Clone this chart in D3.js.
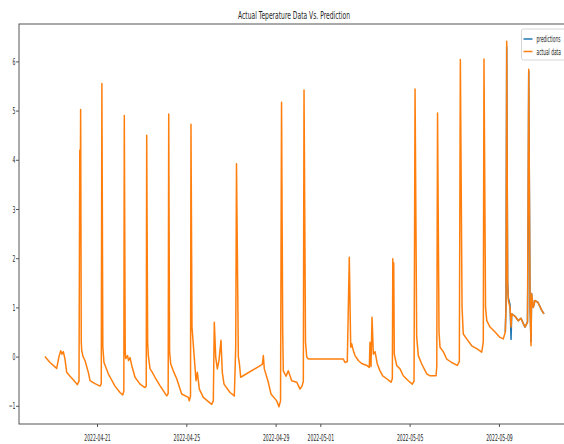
<!DOCTYPE html>
<html>
<head>
<meta charset="utf-8">
<script src="https://cdn.jsdelivr.net/npm/d3@7"></script>
<style>
  body { margin: 0; background: #fff; }
  text { font-family: "DejaVu Sans", sans-serif; fill: #262626; }
</style>
</head>
<body>
<div id="chart"></div>
<script>
// actual temperature readings [time, value]
var actualData = [
  ["2022-04-18 16:00", 0.0], ["2022-04-18 21:30", -0.12], ["2022-04-19 04:40", -0.24], ["2022-04-19 07:10", 0.0],
  ["2022-04-19 09:00", 0.12], ["2022-04-19 10:25", 0.05], ["2022-04-19 11:50", 0.1], ["2022-04-19 13:35", -0.05],
  ["2022-04-19 15:25", -0.32], ["2022-04-19 19:00", -0.4], ["2022-04-19 22:30", -0.47], ["2022-04-20 02:50", -0.57],
  ["2022-04-20 04:40", -0.5], ["2022-04-20 05:30", 4.2], ["2022-04-20 05:55", 3.0], ["2022-04-20 06:25", 5.02],
  ["2022-04-20 07:05", 0.3], ["2022-04-20 07:35", 0.12], ["2022-04-20 09:00", 0.0], ["2022-04-20 11:05", -0.08],
  ["2022-04-20 14:40", -0.32], ["2022-04-20 16:30", -0.49], ["2022-04-20 21:50", -0.55], ["2022-04-21 03:15", -0.6],
  ["2022-04-21 04:35", -0.55], ["2022-04-21 05:15", 5.55], ["2022-04-21 06:15", 0.2], ["2022-04-21 07:30", -0.12],
  ["2022-04-21 12:10", -0.35], ["2022-04-21 15:00", -0.45], ["2022-04-21 19:20", -0.6], ["2022-04-22 00:45", -0.73],
  ["2022-04-22 03:40", -0.78], ["2022-04-22 04:50", -0.7], ["2022-04-22 05:20", 4.9], ["2022-04-22 06:20", 0.1],
  ["2022-04-22 06:50", -0.04], ["2022-04-22 08:50", 0.02], ["2022-04-22 09:50", -0.08], ["2022-04-22 11:30", -0.02],
  ["2022-04-22 13:20", -0.18], ["2022-04-22 16:50", -0.42], ["2022-04-22 22:15", -0.56], ["2022-04-23 03:35", -0.63],
  ["2022-04-23 04:55", -0.6], ["2022-04-23 05:25", 4.5], ["2022-04-23 06:25", 0.3], ["2022-04-23 07:10", 0.02],
  ["2022-04-23 09:00", -0.25], ["2022-04-23 10:50", -0.3], ["2022-04-23 14:20", -0.42], ["2022-04-23 19:40", -0.59],
  ["2022-04-24 02:55", -0.8], ["2022-04-24 04:30", -0.75], ["2022-04-24 05:05", 4.93], ["2022-04-24 06:00", 0.1],
  ["2022-04-24 07:15", -0.15], ["2022-04-24 10:00", -0.29], ["2022-04-24 13:40", -0.45], ["2022-04-24 19:00", -0.76],
  ["2022-04-25 02:10", -0.83], ["2022-04-25 03:10", -0.9], ["2022-04-25 04:30", -0.8], ["2022-04-25 05:00", 4.72],
  ["2022-04-25 06:05", 0.6], ["2022-04-25 10:25", -0.49], ["2022-04-25 11:50", -0.32], ["2022-04-25 14:00", -0.66],
  ["2022-04-25 18:15", -0.83], ["2022-04-26 03:15", -0.97], ["2022-04-26 05:00", -0.9], ["2022-04-26 06:05", 0.7],
  ["2022-04-26 07:35", -0.01], ["2022-04-26 09:20", -0.25], ["2022-04-26 11:05", -0.08], ["2022-04-26 13:15", 0.33],
  ["2022-04-26 14:40", -0.32], ["2022-04-26 16:30", -0.56], ["2022-04-26 23:00", -0.73], ["2022-04-27 03:35", -0.8],
  ["2022-04-27 05:05", 0.19], ["2022-04-27 05:55", 3.92], ["2022-04-27 07:55", -0.01], ["2022-04-27 08:55", -0.12],
  ["2022-04-27 10:25", -0.42], ["2022-04-28 09:40", -0.16], ["2022-04-28 10:45", 0.02], ["2022-04-28 11:50", -0.25],
  ["2022-04-28 16:05", -0.52], ["2022-04-28 19:00", -0.76], ["2022-04-29 01:10", -0.9], ["2022-04-29 03:35", -1.02],
  ["2022-04-29 05:15", -0.9], ["2022-04-29 06:20", 5.17], ["2022-04-29 07:35", 0.5], ["2022-04-29 08:15", -0.29],
  ["2022-04-29 11:10", -0.4], ["2022-04-29 13:35", -0.29], ["2022-04-29 17:15", -0.49], ["2022-04-29 22:40", -0.52],
  ["2022-04-30 02:10", -0.66], ["2022-04-30 04:20", -0.6], ["2022-04-30 05:45", -0.5], ["2022-04-30 06:30", 5.42],
  ["2022-04-30 08:05", 0.3], ["2022-04-30 09:25", -0.01], ["2022-04-30 11:05", -0.05], ["2022-05-02 00:45", -0.05],
  ["2022-05-02 02:35", -0.12], ["2022-05-02 05:00", -0.1], ["2022-05-02 07:10", 2.02], ["2022-05-02 08:40", 0.19],
  ["2022-05-02 09:45", 0.26], ["2022-05-02 11:30", 0.12], ["2022-05-02 13:20", 0.02], ["2022-05-02 16:50", -0.08],
  ["2022-05-02 20:30", -0.14], ["2022-05-03 01:55", -0.18], ["2022-05-03 04:40", -0.22], ["2022-05-03 05:25", 0.29],
  ["2022-05-03 06:30", -0.2], ["2022-05-03 07:35", 0.8], ["2022-05-03 09:00", 0.05], ["2022-05-03 10:50", 0.1],
  ["2022-05-03 13:15", -0.15], ["2022-05-03 16:10", -0.29], ["2022-05-03 19:05", -0.39], ["2022-05-03 23:25", -0.45],
  ["2022-05-04 04:00", -0.52], ["2022-05-04 05:25", -0.45], ["2022-05-04 05:55", 1.99], ["2022-05-04 06:30", 0.6],
  ["2022-05-04 06:55", 1.9], ["2022-05-04 07:30", 0.05], ["2022-05-04 10:05", -0.18], ["2022-05-04 13:40", -0.25],
  ["2022-05-04 17:10", -0.39], ["2022-05-04 22:35", -0.49], ["2022-05-05 02:55", -0.56], ["2022-05-05 04:45", -0.5],
  ["2022-05-05 05:50", 5.44], ["2022-05-05 07:35", 0.4], ["2022-05-05 09:20", 0.02], ["2022-05-05 13:00", -0.15],
  ["2022-05-05 18:25", -0.35], ["2022-05-05 21:55", -0.39], ["2022-05-06 04:25", -0.39], ["2022-05-06 05:10", -0.2],
  ["2022-05-06 06:00", 4.95], ["2022-05-06 07:35", 0.5], ["2022-05-06 08:40", 0.19], ["2022-05-06 12:10", 0.1],
  ["2022-05-06 15:50", -0.05], ["2022-05-06 21:15", -0.12], ["2022-05-07 03:15", -0.18], ["2022-05-07 05:25", -0.1],
  ["2022-05-07 06:30", 6.04], ["2022-05-07 08:20", 1.0], ["2022-05-07 09:40", 0.46], ["2022-05-07 13:20", 0.36],
  ["2022-05-07 18:45", 0.22], ["2022-05-08 00:05", 0.16], ["2022-05-08 05:30", 0.09], ["2022-05-08 07:10", 0.3],
  ["2022-05-08 07:55", 6.05], ["2022-05-08 09:35", 1.0], ["2022-05-08 10:55", 0.73], ["2022-05-08 14:25", 0.6],
  ["2022-05-08 19:50", 0.5], ["2022-05-09 01:10", 0.39], ["2022-05-09 04:40", 0.36], ["2022-05-09 06:50", 0.5],
  ["2022-05-09 07:35", 1.0], ["2022-05-09 08:20", 6.41], ["2022-05-09 09:20", 1.5], ["2022-05-09 10:05", 1.14],
  ["2022-05-09 11:55", 1.0], ["2022-05-09 13:00", 0.6], ["2022-05-09 13:45", 0.87], ["2022-05-09 17:15", 0.82],
  ["2022-05-09 20:50", 0.73], ["2022-05-09 23:40", 0.78], ["2022-05-10 02:10", 0.67], ["2022-05-10 04:00", 0.6],
  ["2022-05-10 06:40", 0.7], ["2022-05-10 08:00", 5.84], ["2022-05-10 09:25", 1.0], ["2022-05-10 10:30", 0.22],
  ["2022-05-10 11:05", 1.28], ["2022-05-10 12:55", 1.0], ["2022-05-10 14:45", 1.14], ["2022-05-10 18:00", 1.1],
  ["2022-05-10 22:00", 0.94], ["2022-05-11 00:25", 0.87]
];

// model predictions, read where they show from under the actual line
var predictionData = [
  ["2022-05-09 06:50", 0.5], ["2022-05-09 07:35", 1.1], ["2022-05-09 08:20", 6.3], ["2022-05-09 09:20", 1.5],
  ["2022-05-09 10:05", 1.2], ["2022-05-09 11:55", 1.05], ["2022-05-09 13:00", 0.35], ["2022-05-09 13:45", 0.87],
  ["2022-05-09 17:15", 0.82], ["2022-05-09 20:50", 0.73], ["2022-05-09 23:40", 0.78], ["2022-05-10 02:10", 0.67],
  ["2022-05-10 04:00", 0.6], ["2022-05-10 06:40", 0.7], ["2022-05-10 07:20", 2.5], ["2022-05-10 08:00", 5.8],
  ["2022-05-10 09:25", 1.0], ["2022-05-10 10:30", 0.3], ["2022-05-10 11:05", 1.28], ["2022-05-10 12:55", 1.0],
  ["2022-05-10 14:45", 1.14], ["2022-05-10 18:00", 1.1], ["2022-05-10 22:00", 0.94], ["2022-05-11 00:25", 0.87]
];

var xTickDates = ["2022-04-21", "2022-04-25", "2022-04-29", "2022-05-01", "2022-05-05", "2022-05-09"];
var yTickValues = [-1, 0, 1, 2, 3, 4, 5, 6];
var xDomain = ["2022-04-17 12:10", "2022-05-12 03:17"];
var yDomain = [-1.37, 6.76];
var seriesNames = ["predictions", "actual data"];
var seriesColors = ["#1f77b4", "#ff7f0e"];

var width = 564, height = 444;
var margin = { top: 24, left: 19, right: -5, bottom: 20 };   // right edge of axes sits outside the picture
var sx = 0.48;   // text is horizontally squeezed in the reference

var parseTime = d3.timeParse("%Y-%m-%d %H:%M"),
    parseDay = d3.timeParse("%Y-%m-%d");

var svg = d3.select("#chart").append("svg")
    .attr("width", width)
    .attr("height", height);

var x = d3.scaleTime()
    .domain(xDomain.map(parseTime))
    .range([margin.left, width - margin.right]);

var y = d3.scaleLinear()
    .domain(yDomain)
    .range([height - margin.bottom, margin.top]);

svg.append("clipPath").attr("id", "plotClip")
  .append("rect")
    .attr("x", margin.left)
    .attr("y", margin.top)
    .attr("width", width - margin.right - margin.left)
    .attr("height", height - margin.bottom - margin.top);

var line = d3.line()
    .x(function (d) { return x(parseTime(d[0])); })
    .y(function (d) { return y(d[1]); });

var plot = svg.append("g").attr("clip-path", "url(#plotClip)");

// predictions first, actual on top
[predictionData, actualData].forEach(function (series, i) {
    plot.append("path")
        .datum(series)
        .attr("d", line)
        .attr("fill", "none")
        .attr("stroke", seriesColors[i])
        .attr("stroke-width", 1.5)
        .attr("stroke-linejoin", "round");
});

// frame
svg.append("rect")
    .attr("x", margin.left)
    .attr("y", margin.top)
    .attr("width", width - margin.right - margin.left)
    .attr("height", height - margin.bottom - margin.top)
    .attr("fill", "none")
    .attr("stroke", "#555")
    .attr("stroke-width", 1);

// x axis
var xAxis = svg.append("g")
    .attr("transform", "translate(0," + (height - margin.bottom) + ")")
    .call(d3.axisBottom(x)
        .tickValues(xTickDates.map(parseDay))
        .tickFormat(d3.timeFormat("%Y-%m-%d"))
        .tickSize(3));
xAxis.select(".domain").remove();
xAxis.selectAll("line").attr("stroke", "#555");
xAxis.selectAll("text")
    .attr("y", 17)
    .attr("dy", 0)
    .attr("transform", "scale(" + sx + ",1)")
    .style("font-size", "9.5px")
    .attr("fill", "#262626");

// y axis
var yAxis = svg.append("g")
    .attr("transform", "translate(" + margin.left + ",0)")
    .call(d3.axisLeft(y)
        .tickValues(yTickValues)
        .tickFormat(d3.format("d"))
        .tickSize(3));
yAxis.select(".domain").remove();
yAxis.selectAll("line").attr("stroke", "#555");
yAxis.selectAll("text")
    .attr("x", -3.5 / sx)
    .attr("transform", "scale(" + sx + ",1)")
    .style("font-size", "9.5px")
    .attr("fill", "#262626");

// title
var title = svg.append("text")
    .attr("text-anchor", "middle")
    .style("font-size", "10.5px")
    .text("Actual Teperature Data Vs. Prediction");
var tw = title.node().getComputedTextLength();
title.attr("transform", "translate(294,19) scale(" + (112 / tw) + ",1)");

// legend
var legend = svg.append("g").attr("transform", "translate(521.5,29)");
legend.append("rect")
    .attr("width", 46)
    .attr("height", 31)
    .attr("rx", 2)
    .attr("fill", "#fff")
    .attr("fill-opacity", 0.8)
    .attr("stroke", "#ccc")
    .attr("stroke-width", 0.8);

seriesNames.forEach(function (name, i) {
    var ly = 10 + i * 12.5;
    legend.append("line")
        .attr("x1", 2).attr("x2", 11)
        .attr("y1", ly).attr("y2", ly)
        .attr("stroke", seriesColors[i])
        .attr("stroke-width", 1.5);
    legend.append("text")
        .attr("transform", "translate(15," + (ly + 3) + ") scale(" + sx + ",1)")
        .style("font-size", "9px")
        .text(name);
});
</script>
</body>
</html>
